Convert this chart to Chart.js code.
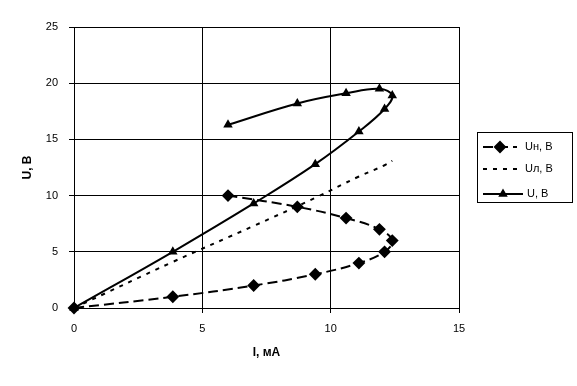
<!DOCTYPE html>
<html>
<head>
<meta charset="utf-8">
<script src="https://cdn.jsdelivr.net/npm/chart.js@4/dist/chart.umd.min.js"></script>
<style>
  html, body { margin: 0; padding: 0; background: #fff; }
  canvas { display: block; }
</style>
</head>
<body>
<canvas id="chart" width="577" height="386"></canvas>
<script>
// current, mA (shared by all series)
const currentI = [0, 3.85, 7.0, 9.4, 11.1, 12.1, 12.4, 11.9, 10.6, 8.7, 6.0];
// load voltage Uн
const voltLoad = [0, 1, 2, 3, 4, 5, 6, 7, 8, 9, 10];
// lamp voltage Uл (rising branch only)
const voltLamp = [0, 4.1, 7.3, 9.8, 11.7, 12.7, 13.1];
// total voltage U
const voltTotal = [0, 5, 9.3, 12.8, 15.7, 17.7, 18.9, 19.5, 19.1, 18.2, 16.3];

const xTicks = [0, 5, 10, 15];
const yTicks = [0, 5, 10, 15, 20, 25];
const seriesNames = ['Uн, В', 'Uл, В', 'U, В'];

const FONT = '"Liberation Sans", Arial, sans-serif';

function toPoints(ys) {
    return ys.map((y, i) => ({ x: currentI[i], y: y }));
}

// Legend box drawn by hand to look like the Excel one
const boxLegend = {
    id: 'boxLegend',
    afterDraw(chart) {
        const ctx = chart.ctx;
        const left = chart.chartArea.right + 18;
        const top = 132;
        const rows = [147, 169, 194];
        ctx.save();
        ctx.strokeStyle = '#000';
        ctx.lineWidth = 1;
        ctx.strokeRect(left + 0.5, top + 0.5, 95, 70);
        chart.data.datasets.forEach((ds, i) => {
            const y = rows[i];
            ctx.beginPath();
            ctx.setLineDash(ds.borderDash || []);
            ctx.lineWidth = ds.borderWidth;
            ctx.strokeStyle = '#000';
            ctx.moveTo(left + 6, y);
            ctx.lineTo(left + (i === 2 ? 46 : 40), y);
            ctx.stroke();
            ctx.setLineDash([]);
            if (ds.pointRadius > 0 && Chart.helpers && Chart.helpers.drawPoint) {
                ctx.fillStyle = '#000';
                Chart.helpers.drawPoint(ctx, {
                    pointStyle: ds.pointStyle,
                    radius: ds.pointRadius,
                    borderWidth: 1
                }, left + (i === 2 ? 26 : 23), y);
            }
            ctx.fillStyle = '#000';
            ctx.font = '11px ' + FONT;
            ctx.textBaseline = 'middle';
            ctx.textAlign = 'left';
            ctx.fillText(seriesNames[i], left + (i === 2 ? 50 : 48), y);
        });
        ctx.restore();
    }
};

const ctx = document.getElementById('chart').getContext('2d');
new Chart(ctx, {
    type: 'scatter',
    data: {
        datasets: [
            {
                label: seriesNames[0],
                data: toPoints(voltLoad),
                showLine: true,
                tension: 0.4,
                borderColor: '#000',
                backgroundColor: '#000',
                borderWidth: 2,
                borderDash: [10, 5],
                pointStyle: 'rectRot',
                pointRadius: 5,
                clip: false
            },
            {
                label: seriesNames[1],
                data: toPoints(voltLamp),
                showLine: true,
                tension: 0.4,
                borderColor: '#000',
                backgroundColor: '#000',
                borderWidth: 2,
                borderDash: [4, 6],
                pointRadius: 0,
                clip: false
            },
            {
                label: seriesNames[2],
                data: toPoints(voltTotal),
                showLine: true,
                tension: 0.4,
                borderColor: '#000',
                backgroundColor: '#000',
                borderWidth: 2,
                pointStyle: 'triangle',
                pointRadius: 3.5,
                clip: false
            }
        ]
    },
    options: {
        responsive: false,
        animation: false,
        devicePixelRatio: 1,
        layout: { padding: { left: 0, top: 27, right: 118, bottom: 0 } },
        plugins: {
            legend: { display: false },
            tooltip: { enabled: false }
        },
        scales: {
            x: {
                type: 'linear',
                min: 0,
                max: 15,
                afterBuildTicks: (scale) => { scale.ticks = xTicks.map(v => ({ value: v })); },
                afterFit: (scale) => { scale.height = 78; },
                grid: { color: '#000', lineWidth: 1, tickLength: 5 },
                border: { color: '#000' },
                ticks: { color: '#000', font: { family: FONT, size: 11 }, padding: 9, maxRotation: 0 },
                title: {
                    display: true,
                    text: 'I, мА',
                    color: '#000',
                    font: { family: FONT, size: 12, weight: 'bold' },
                    padding: { top: 0, bottom: 26 }
                }
            },
            y: {
                type: 'linear',
                min: 0,
                max: 25,
                afterBuildTicks: (scale) => { scale.ticks = yTicks.map(v => ({ value: v })); },
                afterFit: (scale) => { scale.width = 74; },
                grid: { color: '#000', lineWidth: 1, tickLength: 5 },
                border: { color: '#000' },
                ticks: { color: '#000', font: { family: FONT, size: 11 }, padding: 11 },
                title: {
                    display: true,
                    text: 'U, В',
                    color: '#000',
                    font: { family: FONT, size: 12, weight: 'bold' },
                    padding: { top: 20, bottom: 0 }
                }
            }
        }
    },
    plugins: [boxLegend]
});
</script>
</body>
</html>
